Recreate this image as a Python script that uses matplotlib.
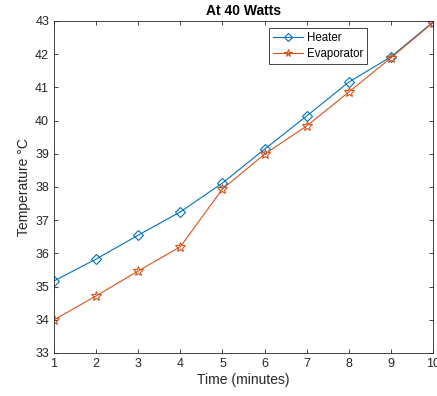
import matplotlib
matplotlib.use("Agg")
import matplotlib.pyplot as plt

plt.rcParams['font.family'] = ['Liberation Sans', 'DejaVu Sans']

time = [1, 2, 3, 4, 5, 6, 7, 8, 9, 10]
heater = [35.17, 35.83, 36.55, 37.25, 38.12, 39.14, 40.14, 41.16, 41.92, 42.97]
evaporator = [34.0, 34.72, 35.47, 36.2, 37.94, 38.99, 39.84, 40.86, 41.89, 42.95]

fig = plt.figure(figsize=(4.37, 3.96), dpi=100)
ax = fig.add_axes([0.1236, 0.1086, 0.8674, 0.8384])

ax.plot(time, heater, color='#0072BD', lw=0.8, marker='D', ms=5.5, mfc='none', mew=0.8, label='Heater')
ax.plot(time, evaporator, color='#D95319', lw=0.8, marker='*', ms=7, mfc='none', mew=0.8, label='Evaporator')

ax.set_xlim(1, 10)
ax.set_ylim(33, 43)
ax.set_xticks(time)
ax.set_yticks(range(33, 44))
ax.tick_params(direction='in', length=3, labelsize=9, colors='#262626', top=True, right=True, width=0.6)
for s in ax.spines.values():
    s.set_linewidth(0.6)
    s.set_color('#262626')
ax.set_title('At 40 Watts', fontsize=10, fontweight='bold', pad=4)
ax.set_xlabel('Time (minutes)', fontsize=10, color='#262626', labelpad=2)
ax.set_ylabel('Temperature \u00b0C', fontsize=10, color='#262626', labelpad=3)
leg = ax.legend(loc='upper left', bbox_to_anchor=(0.568, 0.978), fontsize=8.3, fancybox=False,
                edgecolor='#262626', framealpha=1, handlelength=2.6, borderpad=0.35,
                labelspacing=0.35, handletextpad=0.3, markerscale=0.8, borderaxespad=0)
leg.get_frame().set_linewidth(0.6)

fig.savefig('out.png', dpi=100)
